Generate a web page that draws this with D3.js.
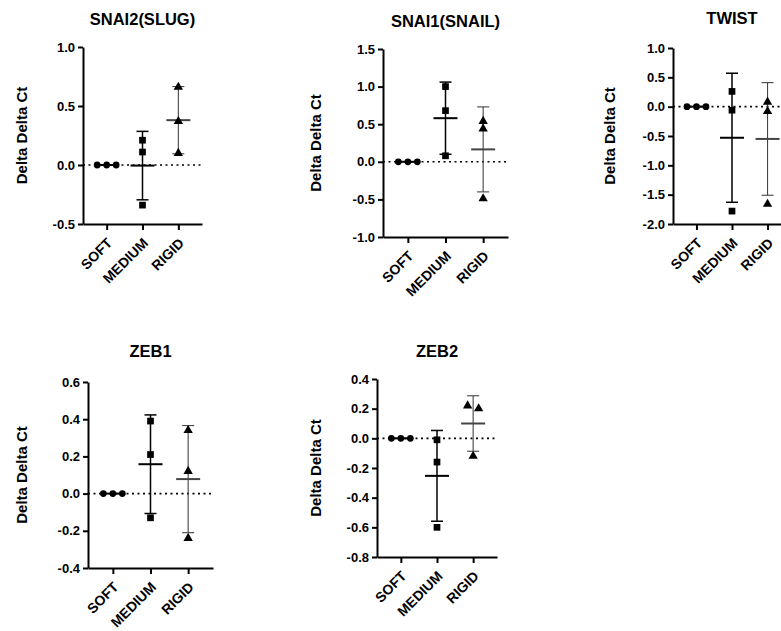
<!DOCTYPE html>
<html lang="en">
<head>
<meta charset="utf-8">
<title>Delta Delta Ct</title>
<script src="https://d3js.org/d3.v7.min.js"></script>
<style>
  body { margin: 0; background: #fff; }
  svg { display: block; font-family: "Liberation Sans", Arial, sans-serif; }
  .axis path, .axis line { stroke: #000; stroke-width: 2; }
  .axis text { font-size: 13px; font-weight: bold; fill: #000; }
</style>
</head>
<body>
<svg width="781" height="631"></svg>
<script>
// categories + gene names
const categories = ["SOFT", "MEDIUM", "RIGID"];
const genes = ["SNAI2(SLUG)", "SNAI1(SNAIL)", "TWIST", "ZEB1", "ZEB2"];

// replicate values per gene, one list per category
const snai2Values = [[0, 0, 0], [0.21, 0.11, -0.34], [0.66, 0.37, 0.10]];
const snai1Values = [[0, 0, 0], [1.00, 0.68, 0.08], [0.54, 0.44, -0.49]];
const twistValues = [[0, 0, 0], [0.26, -0.06, -1.78], [0.08, -0.08, -1.66]];
const zeb1Values  = [[0, 0, 0], [0.39, 0.21, -0.13], [0.34, 0.12, -0.24]];
const zeb2Values  = [[0, 0, 0], [-0.01, -0.16, -0.60], [0.22, 0.20, -0.12]];

// mean lines and error bar half-lengths (SD)
const snai2Means = [0, -0.005, 0.38];  const snai2Sd = [0, 0.29, 0.285];
const snai1Means = [0, 0.58, 0.165];   const snai1Sd = [0, 0.48, 0.565];
const twistMeans = [0, -0.53, -0.55];  const twistSd = [0, 1.10, 0.96];
const zeb1Means  = [0, 0.158, 0.078];  const zeb1Sd  = [0, 0.265, 0.288];
const zeb2Means  = [0, -0.253, 0.100]; const zeb2Sd  = [0, 0.306, 0.187];

// y axis ranges and tick labels
const snai2Ticks = [-0.5, 0.0, 0.5, 1.0];
const snai1Ticks = [-1.0, -0.5, 0.0, 0.5, 1.0, 1.5];
const twistTicks = [-2.0, -1.5, -1.0, -0.5, 0.0, 0.5, 1.0];
const zeb1Ticks  = [-0.4, -0.2, 0.0, 0.2, 0.4, 0.6];
const zeb2Ticks  = [-0.8, -0.6, -0.4, -0.2, 0.0, 0.2, 0.4];

const panels = [
  { values: snai2Values, means: snai2Means, sd: snai2Sd, ticks: snai2Ticks },
  { values: snai1Values, means: snai1Means, sd: snai1Sd, ticks: snai1Ticks },
  { values: twistValues, means: twistMeans, sd: twistSd, ticks: twistTicks },
  { values: zeb1Values,  means: zeb1Means,  sd: zeb1Sd,  ticks: zeb1Ticks },
  { values: zeb2Values,  means: zeb2Means,  sd: zeb2Sd,  ticks: zeb2Ticks }
];

// where each small plot sits on the page
const layout = [
  { x0: 83,  x1: 202, top: 47,  bottom: 224, labelX: 22,  titleY: 25 },
  { x0: 383, x1: 508, top: 49,  bottom: 237, labelX: 316, titleY: 27 },
  { x0: 673, x1: 791, top: 48,  bottom: 224, labelX: 610, titleY: 24 },
  { x0: 88,  x1: 213, top: 382, bottom: 568, labelX: 22,  titleY: 357 },
  { x0: 377, x1: 497, top: 379, bottom: 557, labelX: 316, titleY: 357 }
];

const symbols = [d3.symbolCircle, d3.symbolSquare, d3.symbolTriangle];
const symbolSize = [36, 45, 38];
const barColor = ["#000", "#000", "#444"];
const barWidth = [1.5, 1.5, 1.1];

const svg = d3.select("svg");

panels.forEach((p, gi) => {
  const L = layout[gi];
  const g = svg.append("g");

  const x = d3.scalePoint().domain(categories).range([L.x0, L.x1]).padding(0.66);
  const y = d3.scaleLinear().domain(d3.extent(p.ticks)).range([L.bottom, L.top]);

  // dotted zero line
  g.append("line")
    .attr("x1", L.x0).attr("x2", L.x1)
    .attr("y1", y(0)).attr("y2", y(0))
    .attr("stroke", "#000").attr("stroke-width", 1.6)
    .attr("stroke-dasharray", "2,3.5");

  // y axis
  g.append("g").attr("class", "axis")
    .attr("transform", `translate(${L.x0},0)`)
    .call(d3.axisLeft(y).tickValues(p.ticks).tickSize(5).tickSizeOuter(0).tickPadding(3)
      .tickFormat(d => d.toFixed(1)));

  // x axis
  const xa = g.append("g").attr("class", "axis")
    .attr("transform", `translate(0,${L.bottom})`)
    .call(d3.axisBottom(x).tickSize(6).tickSizeOuter(0));
  xa.selectAll("text")
    .style("font-size", "14px")
    .attr("text-anchor", "end")
    .attr("dy", null).attr("y", null)
    .attr("transform", "translate(6,20) rotate(-45)");

  // title + y label
  g.append("text")
    .attr("x", (L.x0 + L.x1) / 2).attr("y", L.titleY)
    .attr("text-anchor", "middle")
    .style("font-size", "16.5px").style("font-weight", "bold")
    .text(genes[gi]);
  g.append("text")
    .attr("transform", `translate(${L.labelX + 5},${(L.top + L.bottom) / 2}) rotate(-90)`)
    .attr("text-anchor", "middle")
    .style("font-size", "15px").style("font-weight", "bold")
    .text("Delta Delta Ct");

  categories.forEach((c, ci) => {
    const cx = x(c);
    const m = p.means[ci], s = p.sd[ci];
    const col = barColor[ci], sw = barWidth[ci];
    if (s > 0) {
      g.append("line").attr("x1", cx).attr("x2", cx)
        .attr("y1", y(m + s)).attr("y2", y(m - s))
        .attr("stroke", col).attr("stroke-width", sw);
      [m + s, m - s].forEach(v => {
        g.append("line").attr("x1", cx - 6).attr("x2", cx + 6)
          .attr("y1", y(v)).attr("y2", y(v))
          .attr("stroke", col).attr("stroke-width", sw);
      });
    }
    g.append("line").attr("x1", cx - 12).attr("x2", cx + 12)
      .attr("y1", y(m)).attr("y2", y(m))
      .attr("stroke", col).attr("stroke-width", 2);

    // spread points that would overlap, the way the scatter plot does
    const pts = p.values[ci].map(v => ({ v, py: y(v) })).sort((a, b) => a.py - b.py);
    const clusters = [];
    pts.forEach(pt => {
      const last = clusters[clusters.length - 1];
      if (last && pt.py - last[last.length - 1].py < 6) last.push(pt);
      else clusters.push([pt]);
    });
    clusters.forEach(cl => {
      cl.forEach((pt, k) => {
        const off = cl.length === 3 ? (k - 1) * 9.5 : cl.length === 2 ? (k - 0.5) * 11 : 0;
        g.append("path")
          .attr("d", d3.symbol().type(symbols[ci]).size(symbolSize[ci])())
          .attr("transform", `translate(${cx + off},${pt.py})`)
          .attr("fill", "#000");
      });
    });
  });
});
</script>
</body>
</html>
